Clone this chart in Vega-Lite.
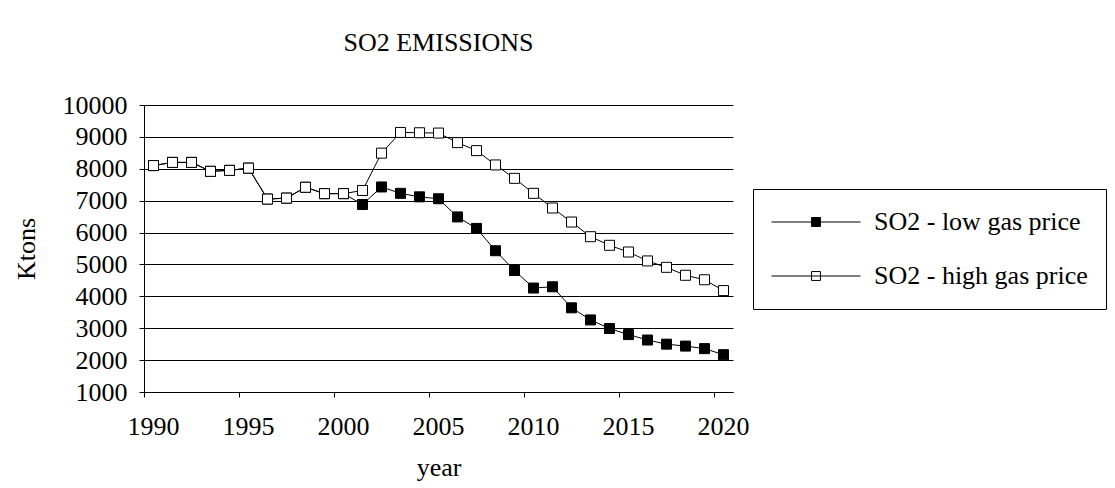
{
  "$schema": "https://vega.github.io/schema/vega-lite/v6.json",
  "autosize": "none",
  "width": 589,
  "height": 287,
  "padding": {"left": 144, "top": 105, "right": 382, "bottom": 96},
  "background": "white",
  "title": {
    "text": "SO2 EMISSIONS",
    "font": "Liberation Serif",
    "fontSize": 26,
    "fontWeight": "normal",
    "color": "black",
    "anchor": "middle",
    "frame": "group",
    "baseline": "alphabetic",
    "offset": 15
  },
  "data": {
    "values": [
      {"year": 1990, "series": "SO2 - low gas price", "ktons": 8100},
      {"year": 1991, "series": "SO2 - low gas price", "ktons": 8200},
      {"year": 1992, "series": "SO2 - low gas price", "ktons": 8200},
      {"year": 1993, "series": "SO2 - low gas price", "ktons": 7920},
      {"year": 1994, "series": "SO2 - low gas price", "ktons": 7950},
      {"year": 1995, "series": "SO2 - low gas price", "ktons": 8020},
      {"year": 1996, "series": "SO2 - low gas price", "ktons": 7050},
      {"year": 1997, "series": "SO2 - low gas price", "ktons": 7080},
      {"year": 1998, "series": "SO2 - low gas price", "ktons": 7420},
      {"year": 1999, "series": "SO2 - low gas price", "ktons": 7220},
      {"year": 2000, "series": "SO2 - low gas price", "ktons": 7220},
      {"year": 2001, "series": "SO2 - low gas price", "ktons": 6880},
      {"year": 2002, "series": "SO2 - low gas price", "ktons": 7430},
      {"year": 2003, "series": "SO2 - low gas price", "ktons": 7230},
      {"year": 2004, "series": "SO2 - low gas price", "ktons": 7120},
      {"year": 2005, "series": "SO2 - low gas price", "ktons": 7060},
      {"year": 2006, "series": "SO2 - low gas price", "ktons": 6490},
      {"year": 2007, "series": "SO2 - low gas price", "ktons": 6130},
      {"year": 2008, "series": "SO2 - low gas price", "ktons": 5430},
      {"year": 2009, "series": "SO2 - low gas price", "ktons": 4810},
      {"year": 2010, "series": "SO2 - low gas price", "ktons": 4260},
      {"year": 2011, "series": "SO2 - low gas price", "ktons": 4300},
      {"year": 2012, "series": "SO2 - low gas price", "ktons": 3640},
      {"year": 2013, "series": "SO2 - low gas price", "ktons": 3260},
      {"year": 2014, "series": "SO2 - low gas price", "ktons": 2990},
      {"year": 2015, "series": "SO2 - low gas price", "ktons": 2800},
      {"year": 2016, "series": "SO2 - low gas price", "ktons": 2630},
      {"year": 2017, "series": "SO2 - low gas price", "ktons": 2500},
      {"year": 2018, "series": "SO2 - low gas price", "ktons": 2440},
      {"year": 2019, "series": "SO2 - low gas price", "ktons": 2360},
      {"year": 2020, "series": "SO2 - low gas price", "ktons": 2170},
      {"year": 1990, "series": "SO2 - high gas price", "ktons": 8100},
      {"year": 1991, "series": "SO2 - high gas price", "ktons": 8200},
      {"year": 1992, "series": "SO2 - high gas price", "ktons": 8200},
      {"year": 1993, "series": "SO2 - high gas price", "ktons": 7920},
      {"year": 1994, "series": "SO2 - high gas price", "ktons": 7950},
      {"year": 1995, "series": "SO2 - high gas price", "ktons": 8020},
      {"year": 1996, "series": "SO2 - high gas price", "ktons": 7050},
      {"year": 1997, "series": "SO2 - high gas price", "ktons": 7080},
      {"year": 1998, "series": "SO2 - high gas price", "ktons": 7420},
      {"year": 1999, "series": "SO2 - high gas price", "ktons": 7220},
      {"year": 2000, "series": "SO2 - high gas price", "ktons": 7220},
      {"year": 2001, "series": "SO2 - high gas price", "ktons": 7320},
      {"year": 2002, "series": "SO2 - high gas price", "ktons": 8490},
      {"year": 2003, "series": "SO2 - high gas price", "ktons": 9140},
      {"year": 2004, "series": "SO2 - high gas price", "ktons": 9130},
      {"year": 2005, "series": "SO2 - high gas price", "ktons": 9120},
      {"year": 2006, "series": "SO2 - high gas price", "ktons": 8820},
      {"year": 2007, "series": "SO2 - high gas price", "ktons": 8570},
      {"year": 2008, "series": "SO2 - high gas price", "ktons": 8120},
      {"year": 2009, "series": "SO2 - high gas price", "ktons": 7700},
      {"year": 2010, "series": "SO2 - high gas price", "ktons": 7230},
      {"year": 2011, "series": "SO2 - high gas price", "ktons": 6770},
      {"year": 2012, "series": "SO2 - high gas price", "ktons": 6330},
      {"year": 2013, "series": "SO2 - high gas price", "ktons": 5870},
      {"year": 2014, "series": "SO2 - high gas price", "ktons": 5600},
      {"year": 2015, "series": "SO2 - high gas price", "ktons": 5390},
      {"year": 2016, "series": "SO2 - high gas price", "ktons": 5110},
      {"year": 2017, "series": "SO2 - high gas price", "ktons": 4910},
      {"year": 2018, "series": "SO2 - high gas price", "ktons": 4660},
      {"year": 2019, "series": "SO2 - high gas price", "ktons": 4520},
      {"year": 2020, "series": "SO2 - high gas price", "ktons": 4180}
    ]
  },
  "encoding": {
    "x": {
      "field": "year",
      "type": "ordinal",
      "scale": {"type": "band", "paddingInner": 0, "paddingOuter": 0},
      "axis": {
        "title": "year",
        "values": [1990, 1995, 2000, 2005, 2010, 2015, 2020],
        "bandPosition": 0,
        "labelAngle": 0,
        "labelOverlap": false,
        "labelPadding": 16,
        "tickSize": 5,
        "tickColor": "black",
        "domainColor": "black",
        "grid": false,
        "titlePadding": 15
      }
    },
    "y": {
      "field": "ktons",
      "type": "quantitative",
      "scale": {"domain": [1000, 10000], "nice": false, "zero": false},
      "axis": {
        "title": "Ktons",
        "values": [1000, 2000, 3000, 4000, 5000, 6000, 7000, 8000, 9000, 10000],
        "format": "d",
        "tickSize": 5,
        "labelPadding": 12,
        "tickColor": "black",
        "domainColor": "black",
        "grid": true,
        "gridColor": "black",
        "gridOpacity": 1,
        "titlePadding": 23
      }
    }
  },
  "layer": [
    {
      "mark": {"type": "line", "color": "black", "strokeWidth": 1},
      "encoding": {"detail": {"field": "series"}}
    },
    {
      "mark": {"type": "point", "shape": "square", "filled": true, "size": 100, "stroke": "black", "strokeWidth": 1, "opacity": 1},
      "encoding": {
        "fill": {
          "field": "series",
          "type": "nominal",
          "scale": {"domain": ["SO2 - low gas price", "SO2 - high gas price"], "range": ["black", "white"]},
          "legend": {
            "title": null,
            "orient": "none",
            "legendX": 609,
            "legendY": 84,
            "direction": "vertical",
            "strokeColor": "black",
            "padding": 18,
            "symbolType": "M-1,0H1M-0.1,-0.1H0.1V0.1H-0.1Z",
            "symbolSize": 7921,
            "symbolStrokeColor": "black",
            "symbolStrokeWidth": 1,
            "clipHeight": 30,
            "rowPadding": 24,
            "labelOffset": 13,
            "labelFontSize": 26,
            "labelFont": "Liberation Serif",
            "labelColor": "black",
            "labelLimit": 400
          }
        }
      }
    }
  ],
  "config": {
    "view": {"stroke": null},
    "font": "Liberation Serif",
    "axis": {
      "labelFont": "Liberation Serif",
      "labelFontSize": 26,
      "labelColor": "black",
      "titleFont": "Liberation Serif",
      "titleFontSize": 26,
      "titleFontWeight": "normal",
      "titleColor": "black",
      "domainWidth": 1,
      "tickWidth": 1,
      "gridWidth": 1
    }
  }
}
